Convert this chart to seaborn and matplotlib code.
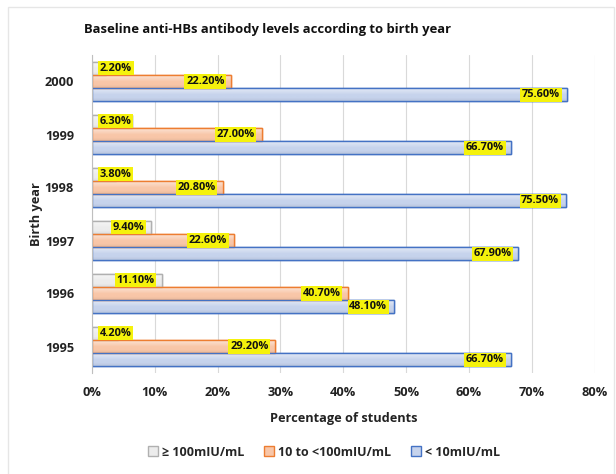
import matplotlib
matplotlib.use("Agg")
import matplotlib.pyplot as plt
import matplotlib.patches as mpatches
from matplotlib.ticker import FuncFormatter, MultipleLocator
import numpy as np
import pandas as pd
import seaborn as sns

# Birth-year groups (top to bottom) and the share of students per antibody level
years = ["2000", "1999", "1998", "1997", "1996", "1995"]
levels = ["\u2265 100mIU/mL", "10 to <100mIU/mL", "< 10mIU/mL"]
high = [2.2, 6.3, 3.8, 9.4, 11.1, 4.2]        # >= 100 mIU/mL
mid = [22.2, 27.0, 20.8, 22.6, 40.7, 29.2]     # 10 to <100 mIU/mL
low = [75.6, 66.7, 75.5, 67.9, 48.1, 66.7]     # < 10 mIU/mL

fills = ["#ececec", "#f8c6a8", "#c6d3ec"]
edges = ["#b0b0b0", "#ed7d31", "#4472c4"]

df = pd.DataFrame({
    "year": years * 3,
    "level": [levels[0]] * 6 + [levels[1]] * 6 + [levels[2]] * 6,
    "pct": high + mid + low,
})

sns.set_theme(style="white")
plt.rcParams["font.family"] = ["Open Sans", "DejaVu Sans"]
plt.rcParams["font.weight"] = "bold"

fig = plt.figure(figsize=(6.16, 4.74), dpi=100)
ax = fig.add_axes([92 / 616, 101 / 474, 502.5 / 616, 318 / 474])

sns.barplot(data=df, x="pct", y="year", hue="level", order=years,
            hue_order=levels, palette=fills, orient="h", width=0.75,
            ax=ax, legend=False, saturation=1)


def bar_gradient(color):
    """Vertical shading: pale at the top, full colour lower down."""
    base = np.array(matplotlib.colors.to_rgb(color))
    white = np.ones(3)
    t = np.linspace(0, 1, 40)[:, None]
    mix = np.where(t < 0.55, 0.55 - t, 0.0) * 1.1          # lighten toward top
    dark = np.where(t > 0.75, (t - 0.75) * 0.25, 0.0)       # slight dip near bottom
    rgb = base[None, :] * (1 - mix) + white[None, :] * mix
    rgb = rgb * (1 - dark)
    return np.clip(rgb[:, None, :], 0, 1)


for container, ec, fc in zip(ax.containers, edges, fills):
    grad = bar_gradient(fc)
    for bar in container:
        bar.set_edgecolor(ec)
        bar.set_linewidth(1.0)
        x0, y0 = bar.get_x(), bar.get_y()
        w, h = bar.get_width(), bar.get_height()
        im = ax.imshow(grad, extent=(x0, x0 + w, y0 + h, y0), aspect="auto",
                       zorder=bar.get_zorder() + 0.1, interpolation="bilinear")
        im.set_clip_path(bar)
        # redraw the outline above the shading
        ax.add_patch(mpatches.Rectangle((x0, y0), w, h, fill=False, edgecolor=ec,
                                        linewidth=1.0, zorder=bar.get_zorder() + 0.2))

# Value labels on yellow tags near the end of each bar
for container, vals in zip(ax.containers, [high, mid, low]):
    for bar, v in zip(container, vals):
        yc = bar.get_y() + bar.get_height() / 2
        if v < 9.0:
            x, ha = 1.25, "left"
        else:
            x, ha = v - 1.1, "right"
        ax.text(x, yc, f"{v:.2f}%", ha=ha, va="center",
                fontsize=7.9, fontweight="bold", color="#111111", zorder=5,
                bbox=dict(boxstyle="square,pad=0.15", fc="#f5f20c", ec="none"))

ax.set_xlim(0, 80)
ax.set_ylim(len(years) - 0.5, -0.5)
ax.xaxis.set_major_locator(MultipleLocator(10))
ax.xaxis.set_major_formatter(FuncFormatter(lambda v, p: f"{v:.0f}%"))
ax.grid(axis="x", color="#d9d9d9", linewidth=0.8)
ax.set_axisbelow(True)
for s in ["top", "right", "bottom"]:
    ax.spines[s].set_visible(False)
ax.spines["left"].set_color("#bfbfbf")
ax.spines["left"].set_linewidth(0.8)
ax.tick_params(axis="both", length=0, labelsize=9.2, colors="#222222")
ax.tick_params(axis="y", pad=13)
ax.tick_params(axis="x", pad=9)

ax.set_xlabel("Percentage of students", fontsize=9.2, fontweight="bold",
              color="#222222", labelpad=10)
ax.set_ylabel("Birth year", fontsize=9.2, fontweight="bold", color="#222222")
ax.yaxis.set_label_coords((43 - 92) / 502.5, 0.5)

fig.text(268 / 616, 1 - 30 / 474, "Baseline anti-HBs antibody levels according to birth year",
         ha="center", va="center", fontsize=9.4, fontweight="bold", color="#111111")

handles = [mpatches.Patch(facecolor=f, edgecolor=e, linewidth=1, label=l)
           for f, e, l in zip(fills, edges, levels)]
fig.legend(handles=handles, loc="center", bbox_to_anchor=(324 / 616, 1 - 452 / 474),
           ncol=3, frameon=False, handlelength=0.8, handleheight=0.8,
           handletextpad=0.3, columnspacing=1.6,
           prop={"size": 9, "weight": "bold"})

# Light chart border
fig.patches.append(mpatches.Rectangle((8 / 616, -0.05), 606 / 616, 1.05 - 7 / 474,
                                      transform=fig.transFigure, fill=False,
                                      edgecolor="#e6e6e6", linewidth=1.0))

fig.savefig("out.png", dpi=100)
